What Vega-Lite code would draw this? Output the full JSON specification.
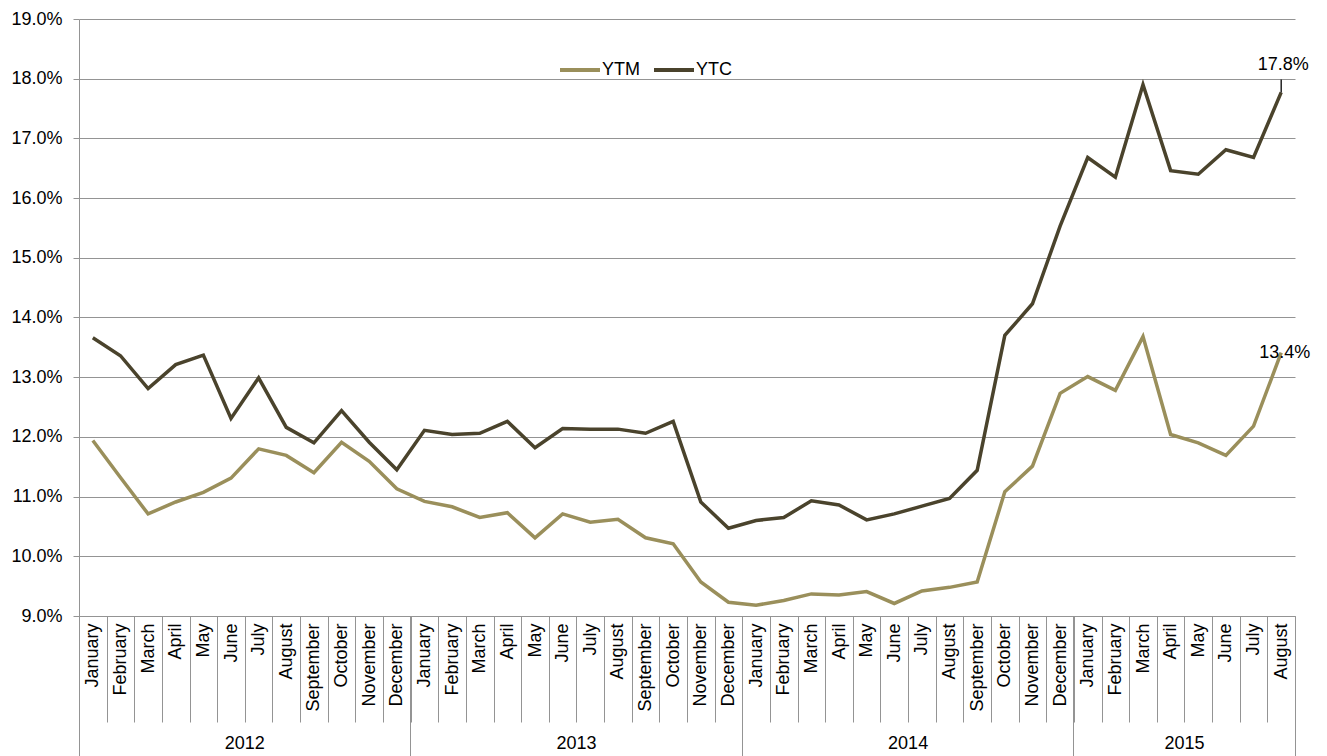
{
  "$schema": "https://vega.github.io/schema/vega-lite/v6.json",
  "width": 1216,
  "height": 597,
  "autosize": {"type": "none"},
  "padding": {"left": 79, "top": 19, "right": 32, "bottom": 140},
  "background": "white",
  "config": {
    "view": {"stroke": null},
    "font": "Liberation Sans",
    "text": {"font": "Liberation Sans"},
    "axis": {"labelFont": "Liberation Sans", "labelFontSize": 18, "labelColor": "#000000"},
    "legend": {"labelFont": "Liberation Sans"}
  },
  "data": {
    "values": [
      {"m": "2012-01", "YTM": 0.1194, "YTC": 0.1366},
      {"m": "2012-02", "YTM": 0.1132, "YTC": 0.1336},
      {"m": "2012-03", "YTM": 0.1071, "YTC": 0.1281},
      {"m": "2012-04", "YTM": 0.1091, "YTC": 0.1321},
      {"m": "2012-05", "YTM": 0.1107, "YTC": 0.1337},
      {"m": "2012-06", "YTM": 0.1131, "YTC": 0.1231},
      {"m": "2012-07", "YTM": 0.1180, "YTC": 0.1299},
      {"m": "2012-08", "YTM": 0.1169, "YTC": 0.1216},
      {"m": "2012-09", "YTM": 0.1140, "YTC": 0.1190},
      {"m": "2012-10", "YTM": 0.1191, "YTC": 0.1244},
      {"m": "2012-11", "YTM": 0.1159, "YTC": 0.1191},
      {"m": "2012-12", "YTM": 0.1113, "YTC": 0.1145},
      {"m": "2013-01", "YTM": 0.1092, "YTC": 0.1211},
      {"m": "2013-02", "YTM": 0.1083, "YTC": 0.1204},
      {"m": "2013-03", "YTM": 0.1065, "YTC": 0.1206},
      {"m": "2013-04", "YTM": 0.1073, "YTC": 0.1226},
      {"m": "2013-05", "YTM": 0.1031, "YTC": 0.1182},
      {"m": "2013-06", "YTM": 0.1071, "YTC": 0.1214},
      {"m": "2013-07", "YTM": 0.1057, "YTC": 0.1213},
      {"m": "2013-08", "YTM": 0.1062, "YTC": 0.1213},
      {"m": "2013-09", "YTM": 0.1031, "YTC": 0.1206},
      {"m": "2013-10", "YTM": 0.1021, "YTC": 0.1226},
      {"m": "2013-11", "YTM": 0.0957, "YTC": 0.1091},
      {"m": "2013-12", "YTM": 0.0923, "YTC": 0.1047},
      {"m": "2014-01", "YTM": 0.0918, "YTC": 0.1060},
      {"m": "2014-02", "YTM": 0.0926, "YTC": 0.1065},
      {"m": "2014-03", "YTM": 0.0937, "YTC": 0.1093},
      {"m": "2014-04", "YTM": 0.0935, "YTC": 0.1086},
      {"m": "2014-05", "YTM": 0.0941, "YTC": 0.1061},
      {"m": "2014-06", "YTM": 0.0921, "YTC": 0.1071},
      {"m": "2014-07", "YTM": 0.0942, "YTC": 0.1084},
      {"m": "2014-08", "YTM": 0.0948, "YTC": 0.1097},
      {"m": "2014-09", "YTM": 0.0957, "YTC": 0.1144},
      {"m": "2014-10", "YTM": 0.1108, "YTC": 0.1370},
      {"m": "2014-11", "YTM": 0.1151, "YTC": 0.1423},
      {"m": "2014-12", "YTM": 0.1273, "YTC": 0.1553},
      {"m": "2015-01", "YTM": 0.1301, "YTC": 0.1668},
      {"m": "2015-02", "YTM": 0.1278, "YTC": 0.1635},
      {"m": "2015-03", "YTM": 0.1368, "YTC": 0.1790},
      {"m": "2015-04", "YTM": 0.1204, "YTC": 0.1646},
      {"m": "2015-05", "YTM": 0.1190, "YTC": 0.1640},
      {"m": "2015-06", "YTM": 0.1169, "YTC": 0.1681},
      {"m": "2015-07", "YTM": 0.1218, "YTC": 0.1668},
      {"m": "2015-08", "YTM": 0.1341, "YTC": 0.1777}
    ]
  },
  "layer": [
    {
      "transform": [{"fold": ["YTM", "YTC"], "as": ["series", "value"]}],
      "mark": {"type": "line", "strokeWidth": 3.5},
      "encoding": {
        "x": {
          "field": "m", "type": "ordinal", "bandPosition": 0.5, "title": null,
          "scale": {"type": "band", "paddingInner": 0, "paddingOuter": 0},
          "axis": {
            "orient": "bottom", "tickBand": "extent", "tickSize": 106,
            "tickColor": "#949494", "domainColor": "#949494", "grid": false,
            "labelAngle": 270, "labelAlign": "right", "labelBaseline": "middle",
            "labelPadding": -99,
            "labelExpr": "['January','February','March','April','May','June','July','August','September','October','November','December'][toNumber(substring(datum.value,5,7))-1]"
          }
        },
        "y": {
          "field": "value", "type": "quantitative", "title": null,
          "scale": {"domain": [0.09, 0.19], "nice": false, "zero": false},
          "axis": {
            "format": ".1%", "tickCount": 10, "tickSize": 6, "labelPadding": 11,
            "tickColor": "#949494", "domainColor": "#949494", "gridColor": "#949494", "grid": true
          }
        },
        "color": {
          "field": "series", "type": "nominal",
          "scale": {"domain": ["YTM", "YTC"], "range": ["#9A8F5B", "#4A432C"]},
          "legend": {
            "title": null, "orient": "none", "legendX": 479, "legendY": 29,
            "direction": "horizontal", "symbolType": "stroke", "symbolSize": 1600,
            "symbolStrokeWidth": 4, "labelFontSize": 18, "labelColor": "#000000",
            "labelOffset": 0, "columnPadding": 6, "padding": 0
          }
        }
      }
    },
    {
      "transform": [{"filter": "datum.m == '2015-08'"}],
      "mark": {"type": "text", "fontSize": 18, "color": "#000000", "dy": -27, "dx": 2, "align": "center", "baseline": "middle"},
      "encoding": {
        "x": {
          "field": "m", "type": "ordinal", "bandPosition": 0.5, "title": null,
          "axis": {
            "orient": "bottom", "values": ["2012-07", "2013-07", "2014-07", "2015-05"],
            "ticks": false, "domain": false, "grid": false, "labelAngle": 0,
            "labelPadding": 127, "labelOffset": -13.8, "labelBaseline": "middle", "labelAlign": "center",
            "labelExpr": "substring(datum.value,0,4)"
          }
        },
        "y": {"field": "YTC", "type": "quantitative", "title": null},
        "text": {"field": "YTC", "type": "quantitative", "format": ".1%"}
      }
    },
    {
      "transform": [{"filter": "datum.m == '2015-08'"}],
      "mark": {"type": "text", "fontSize": 18, "color": "#000000", "dx": 3.5, "align": "center", "baseline": "middle"},
      "encoding": {
        "x": {
          "field": "m", "type": "ordinal", "bandPosition": 0.5, "title": null,
          "axis": {
            "orient": "bottom", "values": ["2012-01", "2013-01", "2014-01", "2015-01"],
            "bandPosition": 0, "tickSize": 140, "labels": false, "domain": false, "grid": false,
            "tickColor": "#949494"
          }
        },
        "y": {"field": "YTM", "type": "quantitative", "title": null},
        "text": {"field": "YTM", "type": "quantitative", "format": ".1%"}
      }
    },
    {
      "transform": [{"filter": "datum.m == '2015-08'"}],
      "mark": {"type": "rule", "color": "#000000", "strokeWidth": 1.3, "y2Offset": -13},
      "encoding": {
        "x": {
          "field": "m", "type": "ordinal", "bandPosition": 0.5, "title": null,
          "axis": {
            "orient": "bottom", "values": ["2015-08"],
            "bandPosition": 1, "tickSize": 140, "labels": false, "domain": false, "grid": false,
            "tickColor": "#949494"
          }
        },
        "y": {"field": "YTC", "type": "quantitative", "title": null},
        "y2": {"field": "YTC"}
      }
    }
  ],
  "resolve": {"axis": {"x": "independent"}}
}
